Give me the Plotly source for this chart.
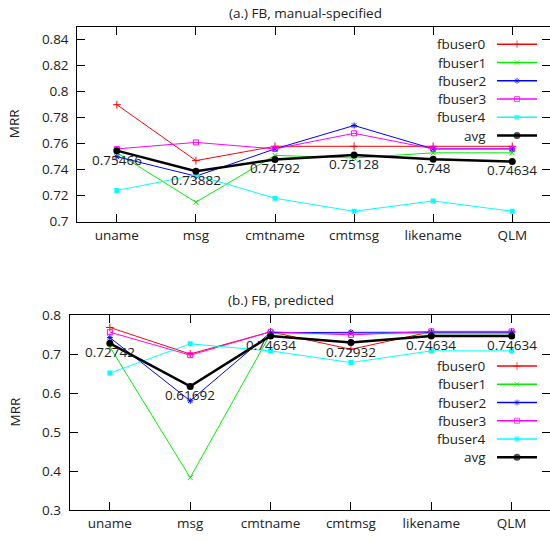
import plotly.graph_objects as go

W, H = 550, 540

categories = ['uname', 'msg', 'cmtname', 'cmtmsg', 'likename', 'QLM']
series_names = ['fbuser0', 'fbuser1', 'fbuser2', 'fbuser3', 'fbuser4', 'avg']

# (a.) FB, manual-specified
a_fbuser0 = [0.790, 0.747, 0.758, 0.758, 0.758, 0.758]
a_fbuser1 = [0.753, 0.715, 0.751, 0.749, 0.753, 0.753]
a_fbuser2 = [0.750, 0.735, 0.756, 0.774, 0.756, 0.756]
a_fbuser3 = [0.756, 0.761, 0.756, 0.768, 0.756, 0.756]
a_fbuser4 = [0.724, 0.736, 0.718, 0.708, 0.716, 0.708]
a_avg = [0.75466, 0.73882, 0.74792, 0.75128, 0.748, 0.74634]

# (b.) FB, predicted
b_fbuser0 = [0.768, 0.700, 0.757, 0.712, 0.757, 0.757]
b_fbuser1 = [0.718, 0.383, 0.752, 0.752, 0.752, 0.752]
b_fbuser2 = [0.742, 0.580, 0.755, 0.756, 0.756, 0.756]
b_fbuser3 = [0.756, 0.697, 0.757, 0.749, 0.758, 0.758]
b_fbuser4 = [0.651, 0.726, 0.708, 0.678, 0.708, 0.708]
b_avg = [0.72742, 0.61692, 0.74634, 0.72932, 0.74634, 0.74634]

a_ticks = [0.7, 0.72, 0.74, 0.76, 0.78, 0.8, 0.82, 0.84]
a_ticktext = ['0.7', '0.72', '0.74', '0.76', '0.78', '0.8', '0.82', '0.84']
b_ticks = [0.3, 0.4, 0.5, 0.6, 0.7, 0.8]
b_ticktext = ['0.3', '0.4', '0.5', '0.6', '0.7', '0.8']

titles = ['(a.) FB, manual-specified', '(b.) FB, predicted']

styles = {
    'fbuser0': dict(color='#ff0000', symbol='cross-thin', size=5.5, width=1),
    'fbuser1': dict(color='#00f000', symbol='x-thin', size=5, width=1),
    'fbuser2': dict(color='#0000ff', symbol='asterisk', size=5, width=1),
    'fbuser3': dict(color='#ff00ff', symbol='square-open', size=5, width=1),
    'fbuser4': dict(color='#00ffff', symbol='square', size=5, width=1),
    'avg': dict(color='#000000', symbol='circle', size=7, width=2.5),
}

FONT = 'Open Sans'
FS = 13.5
TXT = '#222'
fig = go.Figure()

def add_series(vals_list, xa, ya):
    for name, vals in zip(series_names, vals_list):
        st = styles[name]
        line_sym = st['symbol'] in ('cross-thin', 'x-thin', 'asterisk')
        fig.add_trace(go.Scatter(
            x=categories, y=vals, mode='lines+markers', name=name,
            xaxis=xa, yaxis=ya, showlegend=False,
            line=dict(color=st['color'], width=st['width']),
            marker=dict(symbol=st['symbol'], size=st['size'], color=st['color'],
                        line=dict(color=st['color'], width=1 if line_sym else 0)),
        ))

add_series([a_fbuser0, a_fbuser1, a_fbuser2, a_fbuser3, a_fbuser4, a_avg], 'x', 'y')
add_series([b_fbuser0, b_fbuser1, b_fbuser2, b_fbuser3, b_fbuser4, b_avg], 'x2', 'y2')

# pixel-frame geometry of the two panels
A = dict(left=77.3, top=26.7, bottom=221.7)
B = dict(left=69.7, top=315.0, bottom=510.0)

def xrange_for(left):
    unit = (551.8 - left) / 6.0
    return [-0.5, 5.5 - (551.8 - W) / unit]

def ydom(p):
    return [1 - p['bottom'] / H, 1 - p['top'] / H]

axis_common = dict(showline=True, linecolor='black', linewidth=1, ticks='inside',
                   ticklen=8, tickcolor='black', showgrid=False, zeroline=False,
                   tickfont=dict(family=FONT, size=FS, color=TXT))

fig.update_layout(
    xaxis=dict(domain=[A['left'] / W, 1], range=xrange_for(A['left']), anchor='y',
               mirror='ticks', type='category', ticklabelstandoff=1, **axis_common),
    yaxis=dict(domain=ydom(A), range=[0.7, 0.85], anchor='x', tickvals=a_ticks,
               ticktext=a_ticktext, ticklabelstandoff=5, **axis_common),
    xaxis2=dict(domain=[B['left'] / W, 1], range=xrange_for(B['left']), anchor='y2',
                mirror='ticks', type='category', ticklabelstandoff=1, **axis_common),
    yaxis2=dict(domain=ydom(B), range=[0.3, 0.8], anchor='x2', tickvals=b_ticks,
                ticktext=b_ticktext, ticklabelstandoff=5, **axis_common),
    # right-side mirrored ticks without a border line
    yaxis4=dict(overlaying='y', side='right', anchor='x', range=[0.7, 0.85], tickvals=a_ticks,
                ticks='inside', ticklen=8, tickcolor='black', showticklabels=False,
                showline=False, showgrid=False, zeroline=False),
    yaxis5=dict(overlaying='y2', side='right', anchor='x2', range=[0.3, 0.8], tickvals=b_ticks,
                ticks='inside', ticklen=8, tickcolor='black', showticklabels=False,
                showline=False, showgrid=False, zeroline=False),
    # pixel overlay for legend samples
    xaxis3=dict(domain=[0, 1], range=[0, W], visible=False, anchor='y3', fixedrange=True),
    yaxis3=dict(domain=[0, 1], range=[H, 0], visible=False, anchor='x3', fixedrange=True),
)

fig.add_trace(go.Scatter(x=[categories[0]], y=[None], xaxis='x', yaxis='y4', showlegend=False,
                         mode='markers', hoverinfo='skip'))
fig.add_trace(go.Scatter(x=[categories[0]], y=[None], xaxis='x2', yaxis='y5', showlegend=False,
                         mode='markers', hoverinfo='skip'))

annotations = []
# avg value labels
for xa, ya, vals in (('x', 'y', a_avg), ('x2', 'y2', b_avg)):
    for c, v in zip(categories, vals):
        annotations.append(dict(x=c, y=v, xref=xa, yref=ya, text=('%g' % v),
                                showarrow=False, yshift=-9, xanchor='center', yanchor='middle',
                                font=dict(family=FONT, size=FS, color=TXT)))

# titles and axis titles
for t, (tx, ty), p in zip(titles, [(305, 13), (281, 300)], [A, B]):
    annotations.append(dict(x=tx / W, y=1 - ty / H, xref='paper', yref='paper', text=t,
                            showarrow=False, xanchor='center', yanchor='middle',
                            font=dict(family=FONT, size=FS, color=TXT)))
    annotations.append(dict(x=14 / W, y=1 - (p['top'] + p['bottom']) / 2 / H, xref='paper',
                            yref='paper', text='MRR', textangle=-90, showarrow=False,
                            xanchor='center', yanchor='middle',
                            font=dict(family=FONT, size=FS, color=TXT)))

# custom legends (text on the left, sample on the right)
LEG_TEXT_RIGHT, LEG_X0, LEG_X1 = 488, 497, 537
LEG_STEP = 18.25
for y0 in (44.3, 366.0):
    for i, name in enumerate(series_names):
        yy = y0 + i * LEG_STEP
        st = styles[name]
        annotations.append(dict(x=LEG_TEXT_RIGHT / W, y=1 - yy / H, xref='paper', yref='paper',
                                text=name, showarrow=False, xanchor='right', yanchor='middle',
                                font=dict(family=FONT, size=FS, color=TXT)))
        line_sym = st['symbol'] in ('cross-thin', 'x-thin', 'asterisk')
        fig.add_trace(go.Scatter(
            x=[LEG_X0, (LEG_X0 + LEG_X1) / 2, LEG_X1], y=[yy, yy, yy], xaxis='x3', yaxis='y3',
            mode='lines+markers', showlegend=False, hoverinfo='skip',
            line=dict(color=st['color'], width=max(st['width'], 1.5)),
            marker=dict(symbol=st['symbol'], size=[0, st['size'], 0], color=st['color'],
                        line=dict(color=st['color'], width=1 if line_sym else 0)),
        ))

fig.update_layout(
    width=W, height=H, margin=dict(l=0, r=0, t=0, b=0, pad=0, autoexpand=False),
    paper_bgcolor='white', plot_bgcolor='rgba(0,0,0,0)',
    annotations=annotations, showlegend=False,
    font=dict(family=FONT, size=FS, color=TXT),
)

fig.write_html('out.html', config={'displayModeBar': False},
               post_script="document.body.style.margin='0px';document.body.style.padding='0px';")
